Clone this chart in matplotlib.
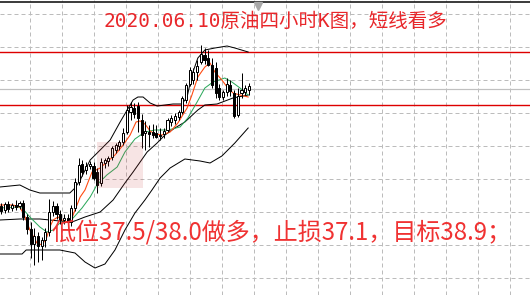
import matplotlib
matplotlib.use("Agg")
import matplotlib.pyplot as plt
from matplotlib.patches import Rectangle
import numpy as np

# ---------------- data (prices) ----------------
opens  = [37.94,37.90,37.96,37.92,37.95,37.94,37.97,37.83,37.71,37.56,37.64,37.54,37.60,37.68,37.88,37.94,
          37.86,37.80,37.82,37.78,37.92,38.18,38.36,38.30,38.34,38.34,38.28,38.17,38.37,38.39,38.43,38.50,
          38.54,38.58,38.68,38.88,38.92,38.94,38.80,38.67,38.68,38.68,38.67,38.65,38.66,38.70,38.78,38.80,
          38.83,38.88,39.00,39.16,39.20,39.28,39.38,39.45,39.42,39.35,39.32,39.12,39.03,39.08,39.15,39.07,
          38.85,39.07,39.08,39.10]
highs  = [37.97,37.98,37.99,37.97,38.00,37.99,38.00,37.86,37.78,37.72,37.68,37.63,37.72,38.01,37.99,37.97,
          37.90,37.86,37.86,37.95,38.22,38.42,38.40,38.38,38.39,38.38,38.32,38.42,38.42,38.44,38.54,38.57,
          38.60,38.72,38.95,38.98,38.97,38.98,38.86,38.79,38.75,38.76,38.75,38.72,38.72,38.82,38.85,38.87,
          38.90,39.04,39.17,39.33,39.32,39.40,39.55,39.52,39.50,39.42,39.38,39.16,39.10,39.22,39.20,39.10,
          39.12,39.27,39.15,39.17]
lows   = [37.86,37.87,37.88,37.89,37.90,37.91,37.80,37.66,37.42,37.35,37.38,37.40,37.53,37.64,37.84,37.81,
          37.76,37.76,37.74,37.74,37.89,38.15,38.24,38.26,38.31,38.20,38.07,38.14,38.32,38.34,38.40,38.47,
          38.50,38.55,38.66,38.80,38.82,38.68,38.52,38.50,38.53,38.62,38.62,38.60,38.62,38.68,38.74,38.76,
          38.80,38.86,38.97,39.14,39.16,39.20,39.36,39.36,39.34,39.12,39.02,39.00,39.00,39.04,39.04,38.82,
          38.83,39.02,39.05,39.05]
closes = [37.89,37.96,37.91,37.95,37.93,37.97,37.83,37.71,37.56,37.64,37.54,37.60,37.68,37.88,37.94,37.86,
          37.80,37.82,37.78,37.92,38.18,38.35,38.28,38.34,38.36,38.22,38.15,38.38,38.40,38.42,38.52,38.55,
          38.58,38.67,38.90,38.93,38.86,38.82,38.65,38.69,38.66,38.65,38.63,38.64,38.69,38.80,38.82,38.84,
          38.88,39.02,39.15,39.30,39.28,39.34,39.46,39.40,39.35,39.15,39.07,39.03,39.08,39.16,39.09,38.84,
          39.04,39.10,39.12,39.14]

# indicator lines: bar position -> price
ma_fast_bar = [-0.3,3.2,5.1,6.5,7.8,9.7,11.1,12.4,13.2,14.1,15.4,16.5,17.8,19.2,20.0,21.4,22.7,24.6,26.8,28.6,
               30.8,33.0,34.9,36.5,37.6,38.9,40.3,41.6,43.5,45.7,47.8,50.3,51.6,53.2,55.1,56.5,57.8,59.7,61.1,
               62.7,64.6,66.8]
ma_fast_val = [37.95,37.95,37.93,37.83,37.70,37.57,37.55,37.63,37.73,37.80,37.83,37.80,37.78,37.82,37.90,38.03,
               38.10,38.28,38.32,38.38,38.45,38.55,38.65,38.78,38.79,38.76,38.69,38.66,38.65,38.68,38.77,38.92,
               39.05,39.23,39.33,39.37,39.28,39.20,39.13,39.07,39.05,39.03]
ma_slow_bar = [-0.3,4.3,5.7,7.8,10.5,12.4,14.1,15.9,17.8,19.5,21.9,24.1,25.9,28.6,31.4,33.5,36.2,38.9,41.6,
               45.1,48.4,50.5,53.0,55.1,57.3,60.5,62.4,64.6,66.8]
ma_slow_val = [37.92,37.93,37.92,37.83,37.73,37.68,37.70,37.77,37.78,37.82,37.92,38.03,38.15,38.25,38.33,38.48,
               38.61,38.68,38.70,38.70,38.73,38.82,38.98,39.12,39.18,39.22,39.18,39.12,39.05]
bb_up_bar = [-0.3,5.1,7.8,10.5,18.6,20.0,21.4,24.1,26.8,29.5,32.2,34.1,35.7,37.0,38.4,40.3,42.2,46.5,48.9,50.3,
             51.6,53.2,55.1,57.8,61.1,63.2,66.8]
bb_up_val = [38.13,38.15,38.10,38.07,38.07,38.12,38.20,38.40,38.50,38.60,38.78,38.90,39.00,39.03,39.03,38.97,
             38.94,38.96,38.96,39.03,39.25,39.42,39.50,39.52,39.54,39.52,39.48]
bb_mid_bar = [-0.3,5.1,10.5,15.9,19.2,22.7,26.8,30.3,33.5,35.7,39.5,42.2,44.3,47.0,49.7,53.2,55.1,58.4,62.7,66.8]
bb_mid_val = [37.80,37.81,37.81,37.79,37.78,37.83,37.88,38.00,38.17,38.28,38.48,38.57,38.65,38.72,38.78,38.90,
              38.95,38.96,39.02,39.05]
bb_low_bar = [-0.3,5.7,6.8,15.9,20.0,22.7,25.4,28.1,30.8,33.5,36.2,38.9,40.8,43.0,45.7,49.7,53.8,56.5,59.7,63.2,66.8]
bb_low_val = [37.46,37.46,37.50,37.50,37.47,37.38,37.32,37.36,37.50,37.70,37.87,38.00,38.10,38.22,38.32,38.41,
              38.39,38.37,38.44,38.57,38.72]

resist_level = 39.48
support_level = 38.95
last_price = 39.11

title = "2020.06.10原油四小时K图，短线看多"
note = "低位37.5/38.0做多，止损37.1，目标38.9；"

# ---------------- figure ----------------
W, H = 530, 295
fig = plt.figure(figsize=(W / 100, H / 100), dpi=100)
ax = fig.add_axes([0, 0, 1, 1])
ax.set_axis_off()
bar_px = 3.7
ax.set_xlim(-1 / bar_px, (W - 1) / bar_px)
ax.set_ylim(37.05, 40.00)
PX = 0.72  # one pixel in points

# grid (dashed)
grid_c = "#bcbcbc"
for k in range(16):
    fx = (30 + 32 * k) / W
    ax.plot([fx, fx], [0, 1], transform=ax.transAxes, color=grid_c, lw=PX,
            dashes=(4, 3), zorder=0)
for k in range(9):
    fy = 1 - (13.5 + 33 * k) / H
    ax.plot([0, 1], [fy, fy], transform=ax.transAxes, color=grid_c, lw=PX,
            dashes=(4, 3), zorder=0)

# top border
ax.plot([0, 1], [1 - 2.3 / H] * 2, transform=ax.transAxes, color="black", lw=1.5 * PX, zorder=1)

# horizontal levels
ax.axhline(resist_level, color="#dd0000", lw=1.4 * PX, zorder=1)
ax.axhline(support_level, color="#dd0000", lw=1.4 * PX, zorder=1)
ax.axhline(last_price, color="#c0c0c0", lw=1.2 * PX, zorder=1)

# indicator lines
ax.plot(bb_up_bar, bb_up_val, color="black", lw=PX, zorder=2)
ax.plot(bb_mid_bar, bb_mid_val, color="black", lw=PX, zorder=2)
ax.plot(bb_low_bar, bb_low_val, color="black", lw=PX, zorder=2)
ax.plot(ma_slow_bar, ma_slow_val, color="#2aa85a", lw=PX, zorder=3)
ax.plot(ma_fast_bar, ma_fast_val, color="#ff4a10", lw=1.1 * PX, zorder=3)

# candles
bw = 0.55
for i, (o, h, l, c) in enumerate(zip(opens, highs, lows, closes)):
    ax.plot([i, i], [l, h], color="black", lw=PX, zorder=4, solid_capstyle="butt")
    bottom = min(o, c)
    height = max(abs(c - o), 0.01)
    face = "white" if c > o else "black"
    ax.add_patch(Rectangle((i - bw / 2, bottom), bw, height, facecolor=face,
                           edgecolor="black", lw=PX, zorder=5))

# watermark (semi-transparent pink block)
x0 = (97 - 1) / bar_px
x1 = (143 - 1) / bar_px
ax.add_patch(Rectangle((x0, 38.12), x1 - x0, 0.46, facecolor="#c84040", edgecolor="none",
                       alpha=0.14, zorder=6))

# small marker top
ax.plot([258 / W], [1 - 6 / H], transform=ax.transAxes, marker="v", ms=6,
        color="#a8a8a8", zorder=7, clip_on=False)

# texts
ax.text(275 / W, 1 - 21.5 / H, title, transform=ax.transAxes, ha="center", va="center",
        fontsize=14.0, color="#e8262a", family=["DejaVu Sans Mono", "Noto Sans CJK SC"], zorder=8)
ax.text(281 / W, 1 - 232 / H, note, transform=ax.transAxes, ha="center", va="center",
        fontsize=17.3, color="#f03232", family=["Noto Sans CJK SC", "DejaVu Sans"], zorder=8)

fig.savefig("out.png", dpi=100, facecolor="white")
